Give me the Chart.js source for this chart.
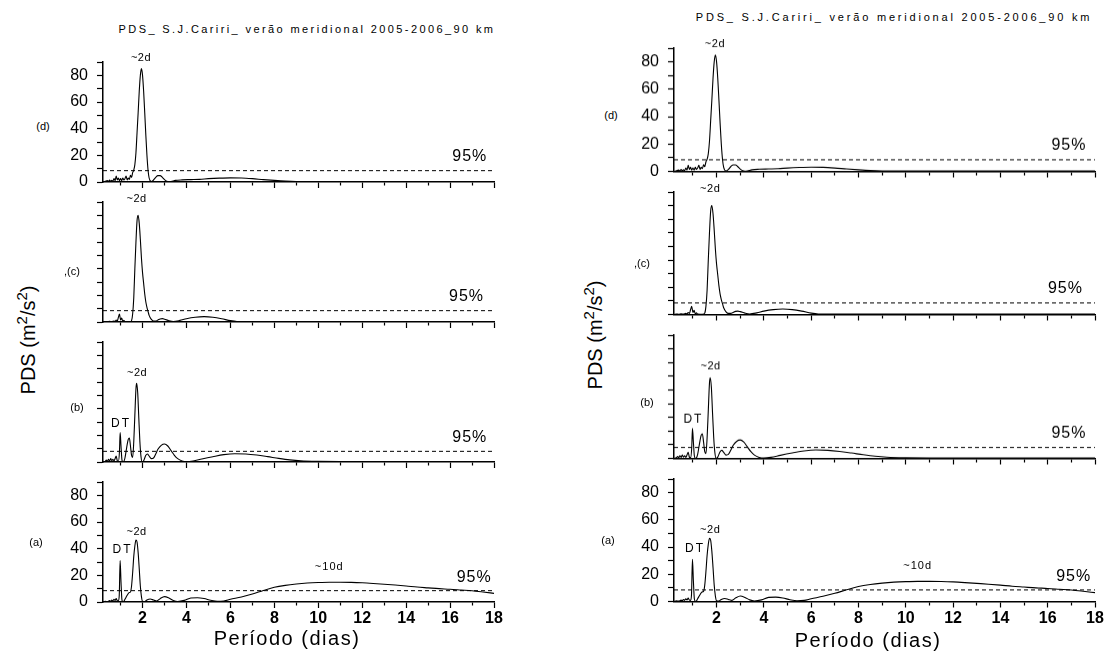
<!DOCTYPE html>
<html>
<head>
<meta charset="utf-8">
<script src="https://cdn.jsdelivr.net/npm/chart.js@4.4.1/dist/chart.umd.min.js"></script>
<style>
  body { margin: 0; background: #fff; width: 1112px; height: 654px; position: relative; overflow: hidden;
         font-family: "Liberation Sans", Arial, sans-serif; color: #000; }
  .box { position: absolute; }
  .txt { position: absolute; white-space: nowrap; line-height: 1; transform: translate(-50%, -50%); }
  .rot { transform: translate(-50%, -50%) rotate(-90deg); }
  sup { font-size: 0.75em; vertical-align: 0.55em; line-height: 0; }
</style>
</head>
<body>
<script>
// panel (d) - top
const periodD = [0.2,0.3,0.4,0.45,0.5,0.55,0.6,0.65,0.7,0.75,0.8,0.85,0.9,0.95,1.0,1.05,1.1,1.15,1.2,1.25,1.3,1.35,1.4,1.45,1.5,1.55,1.6,1.65,1.7,1.75,1.8,1.85,1.9,1.95,2.0,2.05,2.1,2.15,2.2,2.25,2.3,2.4,2.5,2.6,2.7,2.8,2.9,3.0,3.1,3.2,3.3,3.5,3.8,4.2,4.6,5.0,5.5,6.0,6.5,7.0,7.5,8.0,8.5,9,10,11,12,13,14,15,16,17,18];
const pdsD    = [0,0.5,1,0.3,1.5,0.5,1.2,0.6,2.5,1,4.5,1.5,3,1,2.5,1,3,1.5,2.5,4.5,1.5,3,2,5,3.5,7,9,13,22,37,52,68,80,85,80,68,52,35,20,9,3,0.3,1.5,3.5,4.8,4.8,3.5,1.8,0.6,0.2,0.4,1.2,1.6,1.8,2,2.5,2.9,3.1,3,2.5,1.8,1.2,0.7,0.4,0.3,0.3,0.3,0.3,0.3,0.3,0.3,0.3,0.3];

// panel (c)
const periodC = [0.2,0.3,0.4,0.5,0.6,0.7,0.75,0.8,0.85,0.9,0.95,1.0,1.05,1.1,1.15,1.2,1.3,1.4,1.45,1.5,1.55,1.6,1.65,1.7,1.75,1.8,1.85,1.9,1.95,2.0,2.05,2.1,2.15,2.2,2.25,2.3,2.4,2.5,2.6,2.7,2.8,2.9,3.0,3.2,3.4,3.7,4.0,4.4,4.8,5.2,5.6,6.0,6.3,7,8,10,12,14,16,18];
const pdsC    = [0,0.3,0.2,0.5,0.3,0.8,0.5,1.5,0.8,3.5,6,1.5,3,0.5,1.2,0.3,0.2,0.2,0.3,1,6,18,40,60,76,80,74,62,48,37,29,21,15,11,8,5,2,0.8,0.8,1.5,2.3,2.5,2.1,1,0.4,1.2,2.5,3.6,4,3.6,2.5,1,0.4,0.3,0.3,0.3,0.3,0.3,0.3,0.3];

// panel (b)
const periodB = [0.2,0.3,0.35,0.4,0.45,0.5,0.55,0.6,0.65,0.7,0.75,0.8,0.85,0.9,0.95,0.98,1.02,1.06,1.1,1.15,1.2,1.25,1.3,1.35,1.4,1.45,1.5,1.55,1.6,1.65,1.7,1.73,1.78,1.83,1.88,1.93,1.98,2.05,2.15,2.22,2.3,2.4,2.5,2.6,2.7,2.85,3.0,3.15,3.3,3.45,3.6,3.8,4.0,4.3,4.7,5.2,5.7,6.2,6.7,7.2,7.7,8.2,8.7,9.2,10,11,12,14,16,18];
const pdsB    = [0,0.5,1.5,0.5,2,0.8,2.5,1,2,0.8,2.5,4.5,1,0.5,8,22,12,2,0.2,0.5,3,8,13,17,18,12,5,3.5,15,35,55,59,52,33,15,4,0,1,5,6,4.5,2.5,3,6,9.5,12.5,13.5,12,8.5,5,2.5,0.8,0.3,0.8,2.3,4,5.5,6.2,6,5.2,4,2.7,1.6,0.9,0.5,0.4,0.4,0.3,0.3,0.3];

// panel (a) - bottom
const periodA = [0.2,0.3,0.4,0.5,0.55,0.6,0.65,0.7,0.75,0.8,0.85,0.9,0.94,0.98,1.02,1.06,1.1,1.15,1.2,1.3,1.38,1.45,1.5,1.55,1.6,1.65,1.7,1.75,1.8,1.85,1.9,1.95,2.0,2.1,2.2,2.35,2.5,2.65,2.8,3.0,3.2,3.4,3.6,3.9,4.2,4.5,4.8,5.1,5.4,5.7,6.0,6.5,7.0,7.5,8.0,8.5,9,9.5,10,10.5,11,11.5,12,12.5,13,13.5,14,14.5,15,15.5,16,16.5,17,17.5,18];
const pdsA    = [0,0.5,0.3,1,0.5,1.5,0.8,2,1.2,2.5,1,0.8,5,31,15,2,0.2,0.5,2,5,7,7.5,12,22,34,42,46.5,45,37,25,12,4,0.5,0.3,1.5,2.2,1.5,0.8,2.5,4,3,1.2,0.4,1.2,3,3.2,2.6,1.3,0.5,0.8,2,3.8,6,8.6,11,12.5,13.5,14.2,14.6,14.8,14.8,14.7,14.4,13.9,13.3,12.7,12,11.2,10.6,10,9.6,9,8.4,7.5,6.5];

// 95% significance levels, top to bottom
const threshold95 = [8.5, 8.5, 8, 8.5];
const panelNames  = ['(d)', ',(c)', '(b)', '(a)'];
const yTickLabels = [0, 20, 40, 60, 80];
const xTickLabels = [2, 4, 6, 8, 10, 12, 14, 16, 18];
const periodMin = 0.2, periodMax = 18, pdsMax = 90;

const panels = [
  { period: periodD, pds: pdsD, yLabels: true,
    notes: [['~2d', 1.93, 93, 11, 0.5], ['95%', 16.9, 19, 16, 1]] },
  { period: periodC, pds: pdsC, yLabels: false,
    notes: [['~2d', 1.73, 92, 11, 0.5], ['95%', 16.75, 19, 16, 1]] },
  { period: periodB, pds: pdsB, yLabels: false,
    notes: [['~2d', 1.75, 67, 11, 0.5], ['DT', 1.02, 28.5, 12, 2], ['95%', 16.9, 18, 16, 1]] },
  { period: periodA, pds: pdsA, yLabels: true,
    notes: [['~2d', 1.73, 52.5, 11, 0.5], ['DT', 1.09, 39, 12, 2], ['~10d', 10.5, 26, 11, 1], ['95%', 17.1, 18, 16, 1]] }
];

// two copies of the same figure
const figures = [
  { left: 103, right: 494, tops: [62, 202, 342, 482], height: 120,
    title: [307, 29, 2.4], ytitle: [28, 340], xtitle: [287, 638],
    letters: [[43, 126], [72, 271], [77, 407], [36, 542]] },
  { left: 674, right: 1095, tops: [48, 191.5, 335, 478.5], height: 122.5,
    title: [894, 17, 2.8], ytitle: [595, 335], xtitle: [868, 640],
    letters: [[611, 115], [642, 263], [647, 402], [608, 540]] }
];

function addText(html, x, y, css) {
  const d = document.createElement('div');
  d.className = 'txt';
  d.innerHTML = html;
  d.style.left = x + 'px';
  d.style.top = y + 'px';
  Object.assign(d.style, css || {});
  document.body.appendChild(d);
  return d;
}

function notesPlugin(items) {
  return {
    id: 'notes',
    afterDatasetsDraw(chart) {
      const { ctx, scales } = chart;
      ctx.save();
      ctx.fillStyle = '#000';
      ctx.textAlign = 'center';
      ctx.textBaseline = 'middle';
      items.forEach(([text, px, py, size, sp]) => {
        ctx.font = size + 'px "Liberation Sans", Arial, sans-serif';
        ctx.letterSpacing = sp + 'px';
        ctx.fillText(text, scales.x.getPixelForValue(px), scales.y.getPixelForValue(py));
      });
      ctx.restore();
    }
  };
}

function makePanel(fig, row) {
  const p = panels[row];
  const bottom = row === 3;
  const padTop = 16, padRight = 14, yW = 50, xH = bottom ? 30 : 10;
  const plotW = fig.right - fig.left;

  const box = document.createElement('div');
  box.className = 'box';
  box.style.left = (fig.left - yW) + 'px';
  box.style.top = (fig.tops[row] - padTop) + 'px';
  box.style.width = (yW + plotW + padRight) + 'px';
  box.style.height = (padTop + fig.height + xH) + 'px';
  const cv = document.createElement('canvas');
  box.appendChild(cv);
  document.body.appendChild(box);

  new Chart(cv, {
    type: 'line',
    data: {
      datasets: [
        { data: p.period.map((x, i) => ({ x: x, y: p.pds[i] })),
          borderColor: '#000', borderWidth: 1.1, pointRadius: 0,
          cubicInterpolationMode: 'monotone', fill: false },
        { data: [{ x: periodMin, y: threshold95[row] }, { x: periodMax, y: threshold95[row] }],
          borderColor: '#000', borderWidth: 1, borderDash: [4, 3], pointRadius: 0 }
      ]
    },
    options: {
      responsive: true,
      maintainAspectRatio: false,
      animation: false,
      events: [],
      layout: { padding: { top: padTop, right: padRight, left: 0, bottom: 0 } },
      plugins: { legend: { display: false }, tooltip: { enabled: false } },
      scales: {
        x: {
          type: 'linear', min: periodMin, max: periodMax,
          afterFit: s => { s.height = xH; s.paddingLeft = 0; s.paddingRight = 0; },
          border: { color: '#000', width: 1.5 },
          grid: { drawOnChartArea: false, color: '#000', tickLength: 6, tickWidth: 1.2,
                  tickBorderDash: c => (c.tick && c.tick.value % 2 ? [3, 20] : []) },
          ticks: {
            stepSize: 1, includeBounds: false, autoSkip: false, maxRotation: 0, padding: 1,
            color: '#000', font: { size: 16, weight: 'bold', family: '"Liberation Sans", Arial, sans-serif' },
            callback: v => (bottom && xTickLabels.includes(v) ? String(v) : '')
          }
        },
        y: {
          min: 0, max: pdsMax,
          afterFit: s => { s.width = yW; s.paddingTop = 0; s.paddingBottom = 0; },
          border: { color: '#000', width: 1.5 },
          grid: { drawOnChartArea: false, color: '#000', tickLength: 6, tickWidth: 1.2 },
          ticks: {
            stepSize: 10, autoSkip: false, padding: 9, color: '#000',
            font: { size: 16, family: '"Liberation Sans", Arial, sans-serif' },
            callback: v => (p.yLabels && yTickLabels.includes(v) ? String(v) : '')
          }
        }
      }
    },
    plugins: [notesPlugin(p.notes)]
  });
}

figures.forEach(fig => {
  for (let r = 0; r < 4; r++) makePanel(fig, r);
  addText('PDS_ S.J.Cariri_ verão meridional 2005-2006_90 km', fig.title[0], fig.title[1],
          { fontSize: '11px', letterSpacing: fig.title[2] + 'px' });
  const yt = addText('PDS (m<sup>2</sup>/s<sup>2</sup>)', fig.ytitle[0], fig.ytitle[1], { fontSize: '20px' });
  yt.classList.add('rot');
  addText('Período (dias)', fig.xtitle[0], fig.xtitle[1], { fontSize: '20px', letterSpacing: '1.5px' });
  fig.letters.forEach((pos, i) => addText(panelNames[i], pos[0], pos[1], { fontSize: '11px' }));
});
</script>
</body>
</html>
